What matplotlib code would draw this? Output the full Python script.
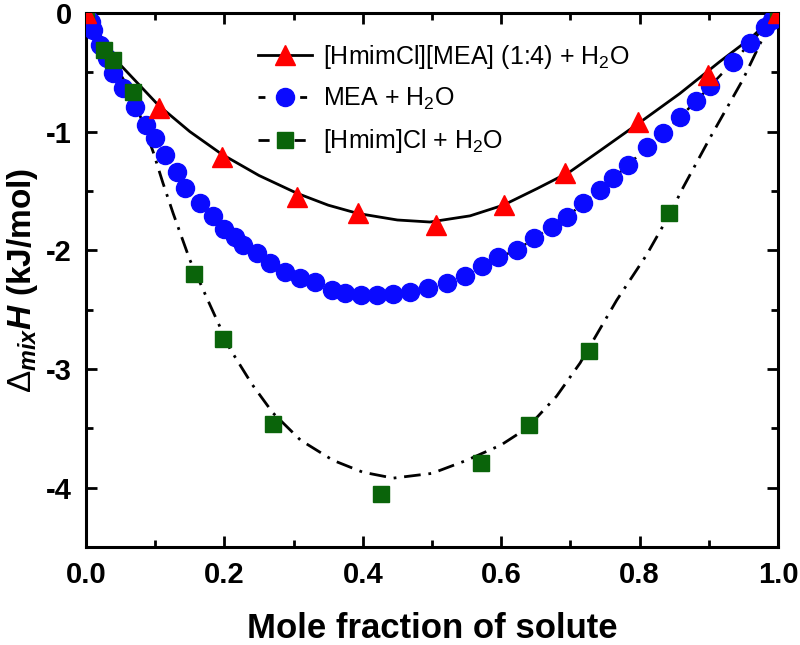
import matplotlib
matplotlib.use("Agg")
import matplotlib.pyplot as plt
from matplotlib.ticker import MultipleLocator

plt.rcParams['font.family'] = ['Liberation Sans', 'DejaVu Sans']
plt.rcParams['mathtext.fontset'] = 'custom'
plt.rcParams['mathtext.rm'] = 'Liberation Sans'
plt.rcParams['mathtext.it'] = 'Liberation Sans:italic'
plt.rcParams['mathtext.bf'] = 'Liberation Sans:bold'
plt.rcParams['mathtext.bfit'] = 'Liberation Sans:bold:italic'
plt.rcParams['axes.unicode_minus'] = False

# ---- data: [HmimCl][MEA] (1:4) + H2O ----
des_x = [0.0, 0.105, 0.196, 0.305, 0.393, 0.506, 0.604, 0.692, 0.798, 0.899, 1.0]
des_y = [0.0, -0.80, -1.215, -1.55, -1.69, -1.79, -1.62, -1.35, -0.92, -0.52, 0.0]
des_fit_x = [0, 0.039, 0.05, 0.105, 0.15, 0.196, 0.25, 0.305, 0.35, 0.393, 0.45, 0.497,
             0.555, 0.603, 0.652, 0.699, 0.743, 0.801, 0.858, 0.916, 0.960, 1.0]
des_fit_y = [0, -0.36, -0.44, -0.78, -1.0, -1.19, -1.37, -1.52, -1.62, -1.69, -1.745, -1.762,
             -1.71, -1.62, -1.48, -1.34, -1.16, -0.92, -0.68, -0.41, -0.215, 0]

# ---- data: MEA + H2O ----
mea_x = [0.0, 0.007, 0.010, 0.020, 0.030, 0.039, 0.053, 0.071, 0.087, 0.100, 0.114,
         0.132, 0.143, 0.165, 0.184, 0.199, 0.215, 0.227, 0.247, 0.266, 0.288,
         0.309, 0.331, 0.355, 0.374, 0.397, 0.420, 0.444, 0.468, 0.494, 0.522,
         0.548, 0.572, 0.595, 0.623, 0.647, 0.673, 0.695, 0.718, 0.743, 0.762,
         0.783, 0.811, 0.834, 0.858, 0.882, 0.902, 0.935, 0.960, 0.981, 0.991, 1.0]
mea_y = [0.0, -0.076, -0.143, -0.270, -0.380, -0.506, -0.633, -0.793, -0.945, -1.055, -1.198,
         -1.342, -1.477, -1.603, -1.713, -1.823, -1.890, -1.958, -2.025, -2.110, -2.186,
         -2.236, -2.270, -2.338, -2.363, -2.380, -2.380, -2.371, -2.354, -2.321, -2.278,
         -2.219, -2.135, -2.059, -2.000, -1.899, -1.806, -1.722, -1.603, -1.494, -1.392,
         -1.283, -1.131, -1.013, -0.878, -0.743, -0.616, -0.414, -0.253, -0.118, -0.059, 0.0]

# ---- data: [Hmim]Cl + H2O ----
il_x = [0.0, 0.026, 0.039, 0.068, 0.156, 0.198, 0.270, 0.426, 0.571, 0.640, 0.727, 0.843, 1.0]
il_y = [0.0, -0.31, -0.40, -0.67, -2.20, -2.75, -3.46, -4.05, -3.79, -3.47, -2.85, -1.69, 0.0]
il_fit_x = [0, 0.026, 0.04, 0.068, 0.082, 0.097, 0.111, 0.126, 0.150, 0.176, 0.208, 0.24, 0.27,
            0.31, 0.357, 0.40, 0.444, 0.50, 0.55, 0.60, 0.637, 0.68, 0.714, 0.767, 0.81, 0.844,
            0.863, 0.902, 0.949, 0.984, 1.0]
il_fit_y = [0, -0.31, -0.42, -0.70, -0.93, -1.17, -1.43, -1.69, -2.08, -2.42, -2.83, -3.13, -3.37,
            -3.60, -3.77, -3.87, -3.92, -3.88, -3.77, -3.64, -3.50, -3.23, -2.95, -2.42, -2.04, -1.69,
            -1.47, -1.05, -0.565, -0.14, 0]

labels = ['[HmimCl][MEA] (1:4) + H$_2$O', 'MEA + H$_2$O', '[Hmim]Cl + H$_2$O']
xticks = [0.0, 0.2, 0.4, 0.6, 0.8, 1.0]
xticklabels = ['0.0', '0.2', '0.4', '0.6', '0.8', '1.0']
yticks = [0, -1, -2, -3, -4]
yticklabels = ['0', '-1', '-2', '-3', '-4']

RED, BLUE, GREEN = '#ff0000', '#0a0aff', '#0a640a'
DASH = (0, (4, 4))
DASHDOT = (0, (6, 2.8, 1, 2.8))

fig = plt.figure(figsize=(8.0, 6.45), dpi=100)
ax = fig.add_axes([0.1075, 0.152, 0.865, 0.828])

ax.plot(des_fit_x, des_fit_y, color='black', lw=2.0, ls='-', zorder=2)
ax.plot(mea_x, mea_y, color='black', lw=1.8, ls=DASH, zorder=2)
ax.plot(il_fit_x, il_fit_y, color='black', lw=2.0, ls=DASHDOT, zorder=2)

ax.plot(mea_x, mea_y, ls='none', marker='o', ms=13, color=BLUE, mec=BLUE, zorder=3)
ax.plot(il_x, il_y, ls='none', marker='s', ms=11, color=GREEN, mec=GREEN, zorder=4)
ax.plot(des_x, des_y, ls='none', marker='^', ms=15, color=RED, mec=RED, zorder=5)

# legend proxies
h1, = ax.plot([], [], color='black', lw=2.0, ls='-', marker='^', ms=15, mfc=RED, mec=RED)
h2, = ax.plot([], [], color='black', lw=2.0, ls=(0, (2.5, 5)), marker='o', ms=13, mfc=BLUE, mec=BLUE)
h3, = ax.plot([], [], color='black', lw=2.0, ls=(0, (4, 4, 1, 4)), marker='s', ms=11, mfc=GREEN, mec=GREEN)
leg = ax.legend([h1, h2, h3], labels, loc='upper left', bbox_to_anchor=(0.2345, 0.962),
                frameon=False, fontsize=18, handlelength=2.15, handletextpad=0.42,
                labelspacing=0.6, borderaxespad=0)

ax.set_xlim(0, 1.0)
ax.set_ylim(-4.5, 0)
ax.xaxis.set_minor_locator(MultipleLocator(0.1))
ax.yaxis.set_minor_locator(MultipleLocator(0.5))

ax.tick_params(which='both', direction='in', top=True, right=True, width=2.0)
ax.tick_params(which='major', length=8)
ax.tick_params(axis='x', which='major', pad=10)
ax.tick_params(axis='y', which='major', pad=10)
ax.tick_params(which='minor', length=5)
ax.set_xticks(xticks)
ax.set_xticklabels(xticklabels, fontsize=21, fontweight='bold')
ax.set_yticks(yticks)
ax.set_yticklabels(yticklabels, fontsize=21, fontweight='bold')
for sp in ax.spines.values():
    sp.set_linewidth(2.2)

ax.set_xlabel('Mole fraction of solute', fontsize=25, fontweight='bold')
ax.set_ylabel(r'$\Delta_{\mathbfit{mix}}\mathbfit{H}$ (kJ/mol)', fontsize=24, fontweight='bold')
ax.xaxis.set_label_coords(0.5, -0.122)
ax.yaxis.set_label_coords(-0.067, 0.5)

fig.savefig('out.png', dpi=100)
